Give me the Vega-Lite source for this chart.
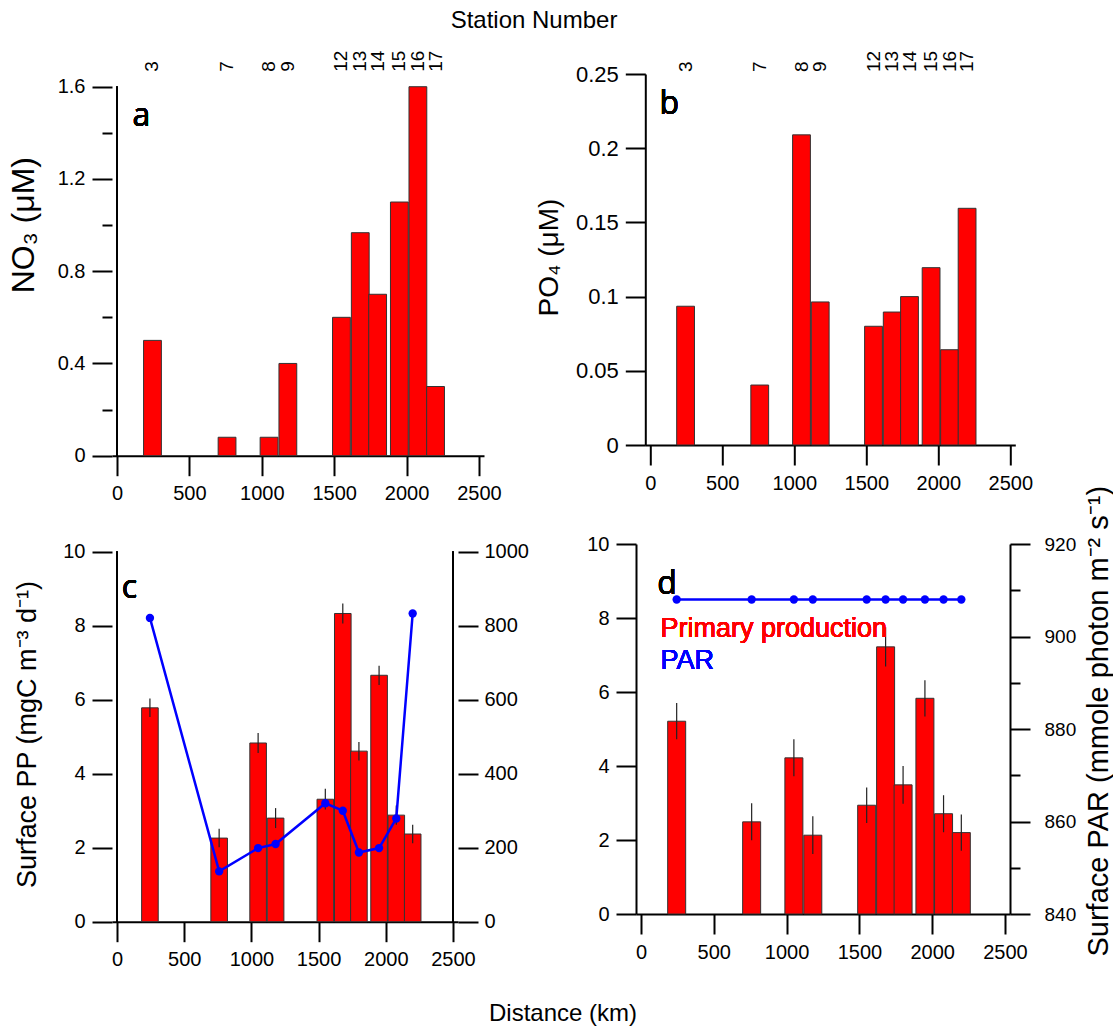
{
  "$schema": "https://vega.github.io/schema/vega-lite/v6.json",
  "padding": {"left": 7, "top": 8, "right": 0, "bottom": 0},
  "background": "white",
  "title": {"text": "Station Number", "fontSize": 24, "font": "Liberation Sans", "fontWeight": "normal", "color": "black", "anchor": "middle", "offset": 18, "dx": -26},
  "config": {
    "view": {"stroke": null},
    "font": "Liberation Sans",
    "axis": {
      "domainColor": "black", "domainWidth": 2, "tickColor": "black", "tickWidth": 2,
      "labelColor": "black", "labelFont": "Liberation Sans", "titleFont": "Liberation Sans",
      "titleFontWeight": "normal", "titleColor": "black", "grid": false,
      "labelFlush": false, "labelOverlap": false, "labelBound": false
    }
  },
  "datasets": {
    "st": [
      {"station": 3, "dist": 245, "no3": 0.50, "po4": 0.0935, "pp_c": 5.78, "err_c": 0.25, "par_c": 821, "pp_d": 5.21, "err_d": 0.49, "par_d": 908},
      {"station": 7, "dist": 760, "no3": 0.08, "po4": 0.0404, "pp_c": 2.26, "err_c": 0.25, "par_c": 136, "pp_d": 2.49, "err_d": 0.50, "par_d": 908},
      {"station": 8, "dist": 1050, "no3": 0.08, "po4": 0.209, "pp_c": 4.83, "err_c": 0.27, "par_c": 199, "pp_d": 4.22, "err_d": 0.50, "par_d": 908},
      {"station": 9, "dist": 1180, "no3": 0.40, "po4": 0.0964, "pp_c": 2.80, "err_c": 0.27, "par_c": 210, "pp_d": 2.13, "err_d": 0.51, "par_d": 908},
      {"station": 12, "dist": 1550, "no3": 0.60, "po4": 0.080, "pp_c": 3.31, "err_c": 0.28, "par_c": 320, "pp_d": 2.94, "err_d": 0.48, "par_d": 908},
      {"station": 13, "dist": 1680, "no3": 0.967, "po4": 0.0896, "pp_c": 8.33, "err_c": 0.27, "par_c": 300, "pp_d": 7.22, "err_d": 0.53, "par_d": 908},
      {"station": 14, "dist": 1800, "no3": 0.70, "po4": 0.100, "pp_c": 4.61, "err_c": 0.25, "par_c": 187, "pp_d": 3.49, "err_d": 0.51, "par_d": 908},
      {"station": 15, "dist": 1950, "no3": 1.10, "po4": 0.1195, "pp_c": 6.66, "err_c": 0.26, "par_c": 199, "pp_d": 5.83, "err_d": 0.49, "par_d": 908},
      {"station": 16, "dist": 2078, "no3": 1.60, "po4": 0.0642, "pp_c": 2.88, "err_c": 0.26, "par_c": 279, "pp_d": 2.71, "err_d": 0.50, "par_d": 908},
      {"station": 17, "dist": 2200, "no3": 0.30, "po4": 0.1595, "pp_c": 2.37, "err_c": 0.25, "par_c": 833, "pp_d": 2.20, "err_d": 0.49, "par_d": 908}
    ]
  },
  "spacing": -23,
  "vconcat": [
    {
      "bounds": "flush",
      "spacing": 161.3,
      "hconcat": [
        {
          "width": 372, "height": 381.7,
          "data": {"name": "st"},
          "layer": [
            {
              "mark": {"type": "bar", "width": 17.8, "fill": "#ff0000", "stroke": "#333333", "strokeWidth": 1},
              "encoding": {
                "x": {"field": "dist", "type": "quantitative", "scale": {"domain": [0, 2500], "nice": false},
                  "axis": {"values": [0, 250, 500, 750, 1000, 1250, 1500, 1750, 2000, 2250, 2500], "format": "d",
                    "labelExpr": "datum.value % 500 == 0 ? datum.label : ''",
                    "tickSize": {"condition": {"test": "datum.value % 500 != 0", "value": 10}, "value": 20},
                    "labelFontSize": 20, "labelPadding": 8, "title": null}},
                "y": {"field": "no3", "type": "quantitative", "scale": {"domain": [0, 1.6551], "nice": false},
                  "axis": {"values": [0, 0.2, 0.4, 0.6, 0.8, 1, 1.2, 1.4, 1.6], "format": "~g",
                    "labelExpr": "round(datum.value*10) % 4 == 0 ? datum.label : ''",
                    "tickSize": {"condition": {"test": "round(datum.value*10) % 4 != 0", "value": 10}, "value": 20},
                    "domain": false, "labelFontSize": 20, "labelPadding": 7,
                    "title": "NO₃ (μM)", "titleFontSize": 32, "titleX": -89, "titleY": 150.7,
                    "titleBaseline": "middle", "titleAlign": "center", "titleAngle": 270}}
              }
            },
            {
              "mark": {"type": "rule", "color": "black", "strokeWidth": 2},
              "encoding": {
                "x": {"datum": 0, "type": "quantitative", "scale": {"domain": [0, 2500], "nice": false}},
                "y": {"datum": 0, "type": "quantitative"},
                "y2": {"datum": 1.6}
              }
            },
            {
              "mark": {"type": "text", "angle": 270, "align": "left", "baseline": "middle", "dx": 15, "fontSize": 19, "font": "Liberation Sans", "color": "black"},
              "encoding": {
                "x": {"field": "dist", "type": "quantitative", "scale": {"domain": [0, 2500], "nice": false}},
                "y": {"datum": 1.6, "type": "quantitative"},
                "text": {"field": "station"}
              }
            },
            {
              "mark": {"type": "text", "align": "left", "baseline": "middle", "fontSize": 32, "font": "Open Sans", "fontWeight": "normal", "color": "black"},
              "encoding": {
                "x": {"datum": 107, "type": "quantitative", "scale": {"domain": [0, 2500], "nice": false}},
                "y": {"datum": 1.474, "type": "quantitative"},
                "text": {"value": "a"}
              }
            }
          ]
        },
        {
          "width": 370, "height": 371,
          "data": {"name": "st"},
          "layer": [
            {
              "mark": {"type": "bar", "width": 17.8, "fill": "#ff0000", "stroke": "#333333", "strokeWidth": 1},
              "encoding": {
                "x": {"field": "dist", "type": "quantitative", "scale": {"domain": [0, 2500], "nice": false},
                  "axis": {"values": [0, 250, 500, 750, 1000, 1250, 1500, 1750, 2000, 2250, 2500], "format": "d",
                    "labelExpr": "datum.value % 500 == 0 ? datum.label : ''",
                    "tickSize": {"condition": {"test": "datum.value % 500 != 0", "value": 10}, "value": 20},
                    "labelFontSize": 20, "labelPadding": 8, "title": null}},
                "y": {"field": "po4", "type": "quantitative", "scale": {"domain": [0, 0.25], "nice": false},
                  "axis": {"values": [0, 0.025, 0.05, 0.075, 0.1, 0.125, 0.15, 0.175, 0.2, 0.225, 0.25], "format": "~g",
                    "labelExpr": "round(datum.value*1000) % 50 == 0 ? datum.label : ''",
                    "tickSize": {"condition": {"test": "round(datum.value*1000) % 50 != 0", "value": 10}, "value": 20},
                    "labelFontSize": 22, "labelPadding": 7,
                    "title": "PO₄ (μM)", "titleFontSize": 28, "titleX": -96.3, "titleY": 183,
                    "titleBaseline": "middle", "titleAlign": "center", "titleAngle": 270}}
              }
            },
            {
              "mark": {"type": "text", "angle": 270, "align": "left", "baseline": "middle", "dx": 2, "fontSize": 19, "font": "Liberation Sans", "color": "black"},
              "encoding": {
                "x": {"field": "dist", "type": "quantitative", "scale": {"domain": [0, 2500], "nice": false}},
                "y": {"datum": 0.25, "type": "quantitative"},
                "text": {"field": "station"}
              }
            },
            {
              "mark": {"type": "text", "align": "left", "baseline": "middle", "fontSize": 32, "font": "Open Sans", "fontWeight": "normal", "color": "black"},
              "encoding": {
                "x": {"datum": 63.5, "type": "quantitative", "scale": {"domain": [0, 2500], "nice": false}},
                "y": {"datum": 0.2298, "type": "quantitative"},
                "text": {"value": "b"}
              }
            }
          ]
        }
      ]
    },
    {
      "bounds": "flush",
      "spacing": 178,
      "title": {"text": "Distance (km)", "orient": "bottom", "fontSize": 24, "font": "Liberation Sans", "fontWeight": "normal", "color": "black", "anchor": "middle", "offset": 32},
      "hconcat": [
        {
          "width": 346, "height": 377.7,
          "data": {"name": "st"},
          "layer": [
            {
              "layer": [
                {
                  "mark": {"type": "bar", "width": 16.6, "fill": "#ff0000", "stroke": "#333333", "strokeWidth": 1},
                  "encoding": {
                    "x": {"field": "dist", "type": "quantitative", "scale": {"domain": [0, 2500], "nice": false},
                      "axis": {"values": [0, 250, 500, 750, 1000, 1250, 1500, 1750, 2000, 2250, 2500], "format": "d",
                        "labelExpr": "datum.value % 500 == 0 ? datum.label : ''",
                        "tickSize": {"condition": {"test": "datum.value % 500 != 0", "value": 10}, "value": 20},
                        "labelFontSize": 20, "labelPadding": 8, "title": null}},
                    "y": {"field": "pp_c", "type": "quantitative", "scale": {"domain": [0, 10.208], "nice": false},
                      "title": "Surface PP (mgC m⁻³ d⁻¹)",
                      "axis": {"values": [0, 1, 2, 3, 4, 5, 6, 7, 8, 9, 10], "format": "d",
                        "labelExpr": "datum.value % 2 == 0 ? datum.label : ''",
                        "tickSize": {"condition": {"test": "datum.value % 2 != 0", "value": 10}, "value": 20},
                        "domain": false, "labelFontSize": 20, "labelPadding": 7,
                        "title": "Surface PP (mgC m⁻³ d⁻¹)", "titleFontSize": 27, "titleX": -85, "titleY": 190,
                        "titleBaseline": "middle", "titleAlign": "center", "titleAngle": 270}}
                  }
                },
                {
                  "mark": {"type": "errorbar", "color": "#222222", "thickness": 1.2},
                  "encoding": {
                    "x": {"field": "dist", "type": "quantitative", "scale": {"domain": [0, 2500], "nice": false}},
                    "y": {"field": "pp_c", "type": "quantitative", "title": "Surface PP (mgC m⁻³ d⁻¹)"},
                    "yError": {"field": "err_c"}
                  }
                },
                {
                  "mark": {"type": "rule", "color": "black", "strokeWidth": 2},
                  "encoding": {
                    "x": {"datum": 0, "type": "quantitative", "scale": {"domain": [0, 2500], "nice": false}},
                    "y": {"datum": 0, "type": "quantitative"},
                    "y2": {"datum": 10}
                  }
                },
                {
                  "mark": {"type": "text", "align": "left", "baseline": "middle", "fontSize": 32, "font": "Open Sans", "fontWeight": "normal", "color": "black"},
                  "encoding": {
                    "x": {"datum": 36, "type": "quantitative", "scale": {"domain": [0, 2500], "nice": false}},
                    "y": {"datum": 9.03, "type": "quantitative"},
                    "text": {"value": "c"}
                  }
                }
              ]
            },
            {
              "layer": [
                {
                  "mark": {"type": "line", "color": "#0000ff", "strokeWidth": 2.5, "point": {"filled": true, "size": 70, "color": "#0000ff"}},
                  "encoding": {
                    "x": {"field": "dist", "type": "quantitative", "scale": {"domain": [0, 2500], "nice": false}},
                    "y": {"field": "par_c", "type": "quantitative", "scale": {"domain": [0, 1020.8], "nice": false},
                      "axis": {"orient": "right", "values": [0, 100, 200, 300, 400, 500, 600, 700, 800, 900, 1000], "format": "d",
                        "labelExpr": "datum.value % 200 == 0 ? datum.label : ''",
                        "tickSize": {"condition": {"test": "datum.value % 200 != 0", "value": 10}, "value": 20},
                        "domain": false, "labelFontSize": 20, "labelPadding": 6, "title": null}}
                  }
                },
                {
                  "mark": {"type": "rule", "color": "black", "strokeWidth": 2},
                  "encoding": {
                    "x": {"datum": 2500, "type": "quantitative", "scale": {"domain": [0, 2500], "nice": false}},
                    "y": {"datum": 0, "type": "quantitative"},
                    "y2": {"datum": 1000}
                  }
                }
              ]
            }
          ],
          "resolve": {"scale": {"y": "independent"}}
        },
        {
          "width": 374, "height": 370,
          "data": {"name": "st"},
          "layer": [
            {
              "layer": [
                {
                  "mark": {"type": "bar", "width": 18, "fill": "#ff0000", "stroke": "#333333", "strokeWidth": 1},
                  "encoding": {
                    "x": {"field": "dist", "type": "quantitative", "scale": {"domain": [0, 2500], "nice": false},
                      "axis": {"values": [0, 250, 500, 750, 1000, 1250, 1500, 1750, 2000, 2250, 2500], "format": "d",
                        "labelExpr": "datum.value % 500 == 0 ? datum.label : ''",
                        "tickSize": {"condition": {"test": "datum.value % 500 != 0", "value": 10}, "value": 20},
                        "labelFontSize": 20, "labelPadding": 8, "title": null}},
                    "y": {"field": "pp_d", "type": "quantitative", "scale": {"domain": [0, 10], "nice": false},
                      "title": null,
                      "axis": {"values": [0, 1, 2, 3, 4, 5, 6, 7, 8, 9, 10], "format": "d",
                        "labelExpr": "datum.value % 2 == 0 ? datum.label : ''",
                        "tickSize": {"condition": {"test": "datum.value % 2 != 0", "value": 10}, "value": 20},
                        "labelFontSize": 20, "labelPadding": 7, "title": null}}
                  }
                },
                {
                  "mark": {"type": "errorbar", "color": "#222222", "thickness": 1.2},
                  "encoding": {
                    "x": {"field": "dist", "type": "quantitative", "scale": {"domain": [0, 2500], "nice": false}},
                    "y": {"field": "pp_d", "type": "quantitative", "title": null},
                    "yError": {"field": "err_d"}
                  }
                },
                {
                  "mark": {"type": "text", "align": "left", "baseline": "middle", "fontSize": 32, "font": "Open Sans", "fontWeight": "normal", "color": "black"},
                  "encoding": {
                    "x": {"datum": 111, "type": "quantitative", "scale": {"domain": [0, 2500], "nice": false}},
                    "y": {"datum": 8.93, "type": "quantitative"},
                    "text": {"value": "d"}
                  }
                },
                {
                  "mark": {"type": "text", "align": "left", "baseline": "middle", "fontSize": 27, "font": "Liberation Sans", "color": "#ff0000"},
                  "encoding": {
                    "x": {"datum": 134, "type": "quantitative", "scale": {"domain": [0, 2500], "nice": false}},
                    "y": {"datum": 7.71, "type": "quantitative"},
                    "text": {"value": "Primary production"}
                  }
                },
                {
                  "mark": {"type": "text", "align": "left", "baseline": "middle", "fontSize": 27, "font": "Liberation Sans", "color": "#0000ff"},
                  "encoding": {
                    "x": {"datum": 134, "type": "quantitative", "scale": {"domain": [0, 2500], "nice": false}},
                    "y": {"datum": 6.85, "type": "quantitative"},
                    "text": {"value": "PAR"}
                  }
                }
              ]
            },
            {
              "layer": [
                {
                  "mark": {"type": "line", "color": "#0000ff", "strokeWidth": 2.5, "point": {"filled": true, "size": 70, "color": "#0000ff"}},
                  "encoding": {
                    "x": {"field": "dist", "type": "quantitative", "scale": {"domain": [0, 2500], "nice": false}},
                    "y": {"field": "par_d", "type": "quantitative", "scale": {"domain": [840, 920], "nice": false, "zero": false},
                      "axis": {"orient": "right", "values": [840, 850, 860, 870, 880, 890, 900, 910, 920], "format": "d",
                        "labelExpr": "datum.value % 20 == 0 ? datum.label : ''",
                        "tickSize": {"condition": {"test": "datum.value % 20 != 0", "value": 10}, "value": 20},
                        "labelFontSize": 19, "labelPadding": 14,
                        "title": "Surface PAR  (mmole photon m⁻² s⁻¹)", "titleFontSize": 29, "titleX": 88, "titleY": 176.7,
                        "titleBaseline": "middle", "titleAlign": "center", "titleAngle": 270}}
                  }
                }
              ]
            }
          ],
          "resolve": {"scale": {"y": "independent"}}
        }
      ]
    }
  ]
}
